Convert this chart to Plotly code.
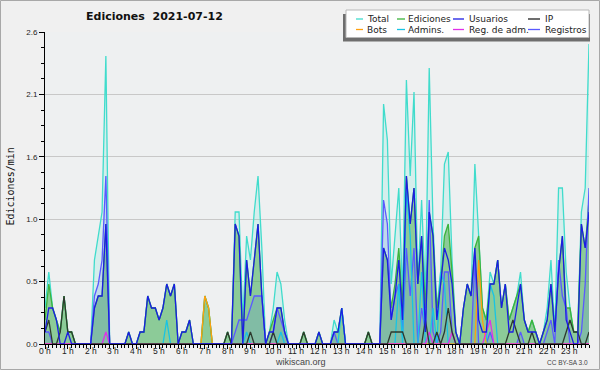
import plotly.graph_objects as go

# 10-minute buckets over the day
minutes = list(range(0, 1440, 10))
hour_ticks = list(range(24))
hour_labels = [f"{h} h" for h in hour_ticks]
y_ticks = [0, 0.52, 1.04, 1.56, 2.08, 2.6]
y_labels = ["0.0", "0.5", "1.0", "1.6", "2.1", "2.6"]

total = [
    0.3, 0.6, 0.3, 0.2, 0.1, 0.4,
    0.1, 0.1, 0, 0, 0, 0,
    0, 0.7, 0.9, 1.1, 2.4, 0,
    0, 0, 0, 0, 0.1, 0,
    0, 0.1, 0.1, 0.4, 0.3, 0.3,
    0.2, 0.3, 0.5, 0.4, 0.5, 0,
    0.1, 0.1, 0.2, 0, 0, 0,
    0.4, 0.3, 0, 0, 0, 0,
    0.1, 0, 1.1, 1.1, 0.2, 0.9,
    0.7, 1.1, 1.4, 0.8, 0, 0.1,
    0.3, 0.6, 0.5, 0.2, 0, 0,
    0, 0, 0.1, 0, 0, 0,
    0.1, 0, 0, 0, 0.2, 0.1,
    0.3, 0, 0, 0, 0, 0,
    0, 0.1, 0, 0, 0, 2.0,
    1.7, 0.5, 0.9, 1.3, 0.4, 2.2,
    1.4, 2.1, 0.5, 1.2, 0.4, 2.3,
    1.0, 0.3, 0.6, 1.5, 1.6, 0.7,
    0.1, 0, 0.3, 0.5, 0.4, 1.5,
    0.9, 0.3, 0.2, 0.6, 0.5, 0.7,
    0.3, 0.5, 0.2, 0.3, 0.4, 0.6,
    0.2, 0.1, 0.2, 0.1, 0, 0.1,
    0.3, 0.7, 0.1, 1.3, 1.3, 0.6,
    0.3, 0.1, 0.1, 1.1, 1.3, 2.5,
]

ediciones = [
    0.2, 0.5, 0.3, 0.2, 0.1, 0.4,
    0.1, 0.1, 0, 0, 0, 0,
    0, 0.3, 0.4, 0.4, 1.0, 0,
    0, 0, 0, 0, 0.1, 0,
    0, 0.1, 0.1, 0.4, 0.3, 0.3,
    0.2, 0.3, 0.5, 0.4, 0.5, 0,
    0.1, 0.1, 0.2, 0, 0, 0,
    0.4, 0.3, 0, 0, 0, 0,
    0.1, 0, 1.0, 0.9, 0, 0.7,
    0.4, 0.7, 1.0, 0.4, 0, 0.1,
    0.2, 0.3, 0.3, 0.1, 0, 0,
    0, 0, 0.1, 0, 0, 0,
    0.1, 0, 0, 0, 0.1, 0.1,
    0.3, 0, 0, 0, 0, 0,
    0, 0.1, 0, 0, 0, 0.8,
    0.7, 0.3, 0.5, 0.8, 0.3, 1.4,
    1.0, 1.3, 0.5, 0.9, 0.3, 1.1,
    0.9, 0.3, 0.5, 0.9, 1.0, 0.6,
    0.1, 0, 0.3, 0.5, 0.4, 0.8,
    0.9, 0.3, 0.2, 0.5, 0.5, 0.7,
    0.3, 0.5, 0.2, 0.3, 0.4, 0.5,
    0.2, 0.1, 0.2, 0.1, 0, 0.1,
    0.2, 0.5, 0.1, 0.6, 0.9, 0.3,
    0.3, 0.1, 0.1, 1.0, 0.8, 1.2,
]

usuarios = [
    0.1, 0.3, 0.3, 0.2, 0, 0,
    0.1, 0, 0, 0, 0, 0,
    0, 0.3, 0.4, 0.4, 1.0, 0,
    0, 0, 0, 0, 0.1, 0,
    0, 0.1, 0.1, 0.4, 0.3, 0.3,
    0.2, 0.3, 0.5, 0.4, 0.5, 0,
    0.1, 0.1, 0.2, 0, 0, 0,
    0, 0, 0, 0, 0, 0,
    0, 0, 1.0, 0.9, 0, 0.7,
    0.4, 0.7, 1.0, 0.4, 0, 0.1,
    0.1, 0.3, 0.3, 0.1, 0, 0,
    0, 0, 0, 0, 0, 0,
    0.1, 0, 0, 0, 0.1, 0.1,
    0.3, 0, 0, 0, 0, 0,
    0, 0, 0, 0, 0, 0.8,
    0.7, 0.2, 0.4, 0.7, 0.2, 1.4,
    1.0, 1.3, 0.5, 0.9, 0.1, 1.1,
    0.9, 0.2, 0.5, 0.8, 0.7, 0.5,
    0.1, 0, 0.3, 0.5, 0.4, 0.8,
    0.2, 0.1, 0.1, 0.5, 0.5, 0.7,
    0.3, 0.5, 0.1, 0.1, 0.3, 0.5,
    0.2, 0.1, 0.1, 0.1, 0, 0.1,
    0.2, 0.5, 0.1, 0.6, 0.9, 0.2,
    0.1, 0, 0, 1.0, 0.8, 1.1,
]

ip = [
    0.1, 0.2, 0, 0, 0.1, 0.4,
    0.1, 0.1, 0, 0, 0, 0,
    0, 0, 0, 0, 0, 0,
    0, 0, 0, 0, 0, 0,
    0, 0, 0, 0, 0, 0,
    0, 0, 0, 0, 0, 0,
    0, 0, 0, 0, 0, 0,
    0, 0, 0, 0, 0, 0,
    0.1, 0, 0, 0, 0, 0,
    0.1, 0, 0, 0, 0, 0,
    0.1, 0, 0, 0, 0, 0,
    0, 0, 0.1, 0, 0, 0,
    0, 0, 0, 0, 0, 0,
    0, 0, 0, 0, 0, 0,
    0, 0.1, 0, 0, 0, 0,
    0, 0.1, 0.1, 0.1, 0.1, 0,
    0, 0, 0, 0, 0.2, 0,
    0, 0.1, 0, 0.1, 0.3, 0.1,
    0, 0, 0, 0, 0, 0,
    0, 0, 0, 0, 0, 0,
    0, 0, 0.1, 0.2, 0.1, 0,
    0, 0, 0.1, 0, 0, 0,
    0, 0, 0, 0, 0, 0.1,
    0.2, 0.1, 0.1, 0, 0, 0.1,
]

bots = [0] * 42 + [0.4, 0.3] + [0] * 70 + [0.7, 0.2] + [0] * 28

admins = [
    0, 0, 0, 0, 0, 0,
    0, 0, 0, 0, 0, 0,
    0, 0, 0, 0, 0, 0,
    0, 0, 0, 0, 0, 0,
    0, 0, 0, 0, 0, 0,
    0, 0, 0.2, 0, 0, 0,
    0, 0, 0, 0, 0, 0,
    0, 0, 0, 0, 0, 0,
    0, 0, 0, 0, 0, 0.1,
    0, 0, 0, 0, 0, 0,
    0, 0, 0.1, 0, 0, 0,
    0, 0, 0, 0, 0, 0,
    0, 0, 0, 0, 0, 0,
    0.3, 0, 0, 0, 0, 0,
    0, 0, 0, 0, 0, 0,
    0, 0, 0, 0.5, 0, 1.3,
    0.9, 0, 0, 0.6, 0, 0,
    0.3, 0, 0.6, 0.5, 0, 0,
    0, 0, 0, 0, 0, 0,
    0, 0, 0, 0.5, 0.4, 0,
    0, 0, 0, 0, 0, 0,
    0, 0, 0, 0, 0, 0,
    0, 0, 0, 0, 0, 0,
    0, 0, 0, 0, 0, 0,
]

reg_adm = [0] * 16 + [0.1] + [0] * 84 + [0.1] + [0] * 5 + [0.1] + [0] * 8 + [0.1, 0.2] + [0] * 26

registros = [
    0.1, 0.1, 0, 0, 0, 0,
    0, 0, 0, 0, 0, 0,
    0, 0.4, 0.5, 0.7, 1.4, 0,
    0, 0, 0, 0, 0, 0,
    0, 0, 0, 0, 0, 0,
    0, 0, 0, 0, 0, 0,
    0, 0, 0, 0, 0, 0,
    0, 0, 0, 0, 0, 0,
    0, 0, 0.1, 0.2, 0.2, 0.2,
    0.3, 0.4, 0.4, 0.4, 0, 0,
    0.1, 0.3, 0.2, 0.1, 0, 0,
    0, 0, 0, 0, 0, 0,
    0, 0, 0, 0, 0.1, 0,
    0, 0, 0, 0, 0, 0,
    0, 0, 0, 0, 0, 1.2,
    1.0, 0.2, 0.4, 0.5, 0.1, 0.8,
    0.4, 0.8, 0, 0.3, 0.1, 1.2,
    0.1, 0, 0.1, 0.6, 0.6, 0.1,
    0, 0, 0, 0, 0, 0.7,
    0, 0, 0, 0.1, 0, 0,
    0, 0, 0, 0, 0, 0.1,
    0, 0, 0, 0, 0, 0,
    0.1, 0.2, 0, 0.7, 0.4, 0.3,
    0, 0, 0, 0.1, 0.5, 1.3,
]

series_names = ["Total", "Ediciones", "Usuarios", "IP", "Bots", "Admins.", "Reg. de adm.", "Registros"]
colors = {
    "Total": "#40DCCC",
    "Ediciones": "#3CB43C",
    "Usuarios": "#1C1CE4",
    "IP": "#2E3A2E",
    "Bots": "#FFA010",
    "Admins.": "#18C4E4",
    "Reg. de adm.": "#E030E8",
    "Registros": "#5A5AFF",
}
legend_colors = dict(colors, IP="#202020")
values = {
    "Total": total, "Ediciones": ediciones, "Usuarios": usuarios, "IP": ip,
    "Bots": bots, "Admins.": admins, "Reg. de adm.": reg_adm, "Registros": registros,
}
fills = {
    "Total": "rgba(64,224,208,0.14)",
    "Ediciones": "rgba(50,160,50,0.45)",
    "Registros": "rgba(70,110,240,0.15)",
}

x = [m / 60 for m in minutes]

fig = go.Figure()
draw_order = ["Total", "Ediciones", "Registros", "Admins.", "Bots", "Reg. de adm.", "IP", "Usuarios"]
for name in draw_order:
    fig.add_trace(go.Scatter(
        x=x, y=values[name], mode="lines", name=name,
        line=dict(color=colors[name], width=1.3),
        fill="tozeroy" if name in fills else None,
        fillcolor=fills.get(name),
        showlegend=False, hoverinfo="skip",
    ))

W, H = 600, 370
ML, MR, MT, MB = 45, 11, 32, 26
PW, PH = W - ML - MR, H - MT - MB


def px(xp):
    return (xp - ML) / PW


def py(yp):
    return (H - MB - yp) / PH


shapes = []
annotations = []

# outer border
shapes.append(dict(type="rect", xref="paper", yref="paper",
                   x0=px(0.5), x1=px(599.5), y0=py(369.5), y1=py(0.5),
                   line=dict(color="#a8a8a8", width=1), layer="below"))

# legend shadow + box
shapes.append(dict(type="rect", xref="paper", yref="paper",
                   x0=px(343), x1=px(590), y0=py(41.5), y1=py(14),
                   fillcolor="#6e6e6e", line=dict(width=0), layer="above"))
shapes.append(dict(type="rect", xref="paper", yref="paper",
                   x0=px(346), x1=px(589), y0=py(37.5), y1=py(10),
                   fillcolor="#ffffff", line=dict(color="#b8b8b8", width=1), layer="above"))

legend_cols = [(356, 363, 365), (397, 405, 406), (453, 464, 467), (528, 540, 543)]
legend_rows = [19, 29.5]
legend_grid = [["Total", "Ediciones", "Usuarios", "IP"],
               ["Bots", "Admins.", "Reg. de adm.", "Registros"]]
for r, row in enumerate(legend_grid):
    for c, name in enumerate(row):
        x0, x1, tx = legend_cols[c]
        yy = legend_rows[r]
        shapes.append(dict(type="line", xref="paper", yref="paper",
                           x0=px(x0), x1=px(x1), y0=py(yy), y1=py(yy),
                           line=dict(color=legend_colors[name], width=1.3), layer="above"))
        annotations.append(dict(xref="paper", yref="paper", x=px(tx), y=py(yy),
                                xanchor="left", yanchor="middle", showarrow=False,
                                text=name, font=dict(family="DejaVu Sans", size=9, color="#222")))

# title
annotations.append(dict(xref="paper", yref="paper", x=px(154), y=py(17),
                        xanchor="center", yanchor="middle", showarrow=False,
                        text="<b>Ediciones\u00a0 2021-07-12</b>",
                        font=dict(family="DejaVu Sans", size=11, color="#111")))
# y axis title
annotations.append(dict(xref="paper", yref="paper", x=px(9.5), y=py(187),
                        xanchor="center", yanchor="middle", showarrow=False, textangle=-90,
                        text="Ediciones/min",
                        font=dict(family="DejaVu Sans Mono", size=10, color="#111")))
# hour tick labels
for h, lab in zip(hour_ticks, hour_labels):
    annotations.append(dict(xref="x", yref="paper", x=h, y=py(350.5),
                            xanchor="center", yanchor="middle", showarrow=False,
                            text=lab, font=dict(family="Liberation Sans", size=8.5, color="#222")))
# footer
annotations.append(dict(xref="paper", yref="paper", x=px(300), y=py(362),
                        xanchor="center", yanchor="middle", showarrow=False,
                        text="wikiscan.org",
                        font=dict(family="Liberation Sans", size=9, color="#444")))
annotations.append(dict(xref="paper", yref="paper", x=px(590), y=py(362.5),
                        xanchor="right", yanchor="middle", showarrow=False,
                        text="CC BY-SA 3.0",
                        font=dict(family="Liberation Sans", size=6.5, color="#444")))

minor_x = [m / 60 for m in minutes if m % 60]
minor_y = [round(k * 0.13, 2) for k in range(21) if k % 4]

fig.update_layout(
    width=W, height=H,
    margin=dict(l=ML, r=MR, t=MT, b=MB, pad=0),
    paper_bgcolor="#f0f0f0", plot_bgcolor="#eef0f1",
    shapes=shapes, annotations=annotations,
    hovermode=False,
    xaxis=dict(range=[0, 1430 / 60], tickvals=hour_ticks, showticklabels=False,
               showline=True, linecolor="black", linewidth=1,
               ticks="outside", ticklen=4, tickcolor="black",
               minor=dict(tickvals=minor_x, ticks="outside", ticklen=3, tickcolor="black"),
               showgrid=False, zeroline=False),
    yaxis=dict(range=[0, 2.6], tickvals=y_ticks, ticktext=y_labels,
               showline=True, linecolor="black", linewidth=1,
               ticks="outside", ticklen=5, tickcolor="black",
               minor=dict(tickvals=minor_y, ticks="outside", ticklen=3, tickcolor="black"),
               showgrid=True, gridcolor="#c8c8c8", gridwidth=1, zeroline=False,
               tickfont=dict(family="Liberation Sans", size=8, color="#222")),
)

fig.write_html("out.html", config={"displayModeBar": False},
               post_script="document.body.style.margin='0';document.body.style.padding='0';")
